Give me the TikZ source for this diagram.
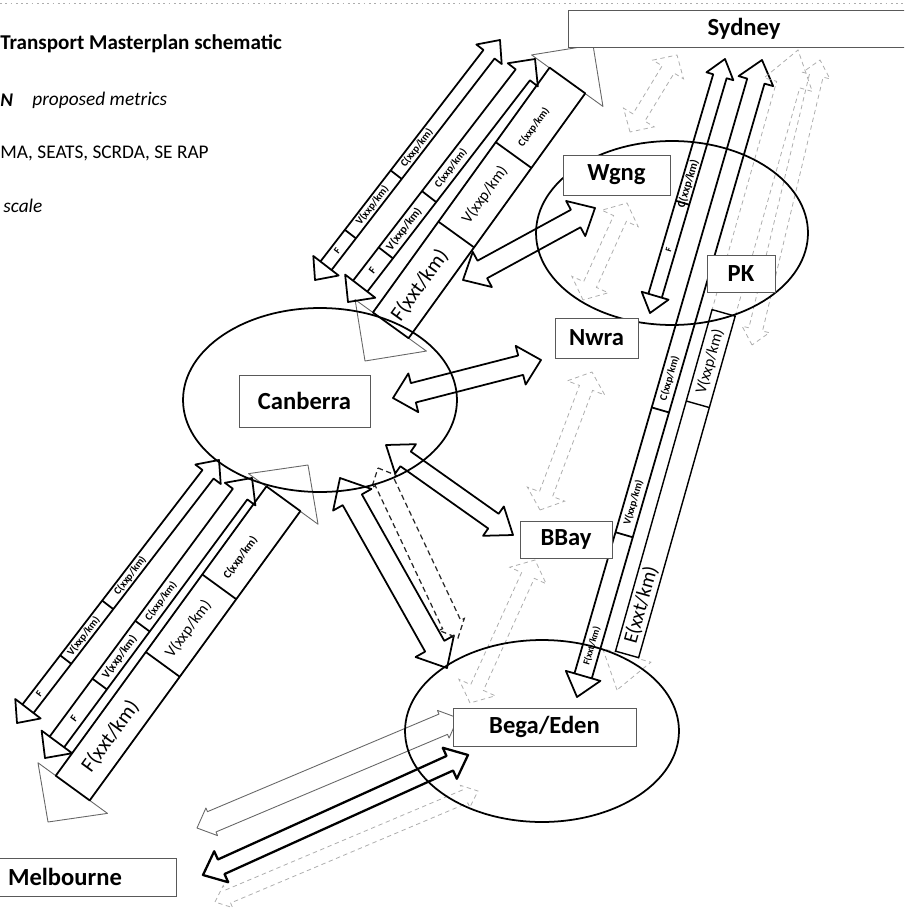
\documentclass[tikz,border=0pt]{standalone}
\usepackage{fontspec}
\setmainfont{Carlito}
\usetikzlibrary{calc}

% block arrow, head at both ends: [style]{from}{to}{half shaft}{half head}{head length} (px of the sketch)
\newcommand{\dblock}[6][]{%
  \draw[#1] (#2)
    -- ($(#2)!{#6*0.2mm}!(#3)!{#5*0.2mm}!90:(#3)$)
    -- ($(#2)!{#6*0.2mm}!(#3)!{#4*0.2mm}!90:(#3)$)
    -- ($(#3)!{#6*0.2mm}!(#2)!{#4*0.2mm}!-90:(#2)$)
    -- ($(#3)!{#6*0.2mm}!(#2)!{#5*0.2mm}!-90:(#2)$)
    -- (#3)
    -- ($(#3)!{#6*0.2mm}!(#2)!{#5*0.2mm}!90:(#2)$)
    -- ($(#3)!{#6*0.2mm}!(#2)!{#4*0.2mm}!90:(#2)$)
    -- ($(#2)!{#6*0.2mm}!(#3)!{#4*0.2mm}!-90:(#3)$)
    -- ($(#2)!{#6*0.2mm}!(#3)!{#5*0.2mm}!-90:(#3)$)
    -- cycle;}
% bar across an arrow at distance #4, half width #5
\newcommand{\xbar}[5][]{%
  \draw[#1] ($(#2)!{#4*0.2mm}!(#3)!{#5*0.2mm}!90:(#3)$)
    -- ($(#2)!{#4*0.2mm}!(#3)!{#5*0.2mm}!-90:(#3)$);}
% shaft box between distances #4 and #5, half width #6
\newcommand{\barbox}[6][]{%
  \draw[#1] ($(#2)!{#4*0.2mm}!(#3)!{#6*0.2mm}!90:(#3)$)
    -- ($(#2)!{#5*0.2mm}!(#3)!{#6*0.2mm}!90:(#3)$)
    -- ($(#2)!{#5*0.2mm}!(#3)!{#6*0.2mm}!-90:(#3)$)
    -- ($(#2)!{#4*0.2mm}!(#3)!{#6*0.2mm}!-90:(#3)$) -- cycle;}

\begin{document}
\begin{tikzpicture}[x=0.02cm, y=-0.02cm,
    heavy/.style={draw=black, line width=1pt, line join=round},
    hairline/.style={draw=black!60, line width=0.5pt, line join=round},
    faint/.style={draw=black!32, line width=0.45pt, dash pattern=on 2.5pt off 2pt},
    dashline/.style={draw=black!85, line width=0.7pt, dash pattern=on 3pt off 2pt},
    rim/.style={draw=black, line width=1pt},
    place/.style 2 args={draw=black!65, line width=0.5pt, fill=white, inner sep=0pt,
      minimum width=#1*0.02cm, minimum height=#2*0.02cm,
      font=\bfseries\fontsize{14}{16}\selectfont},
    metric/.style={sloped, inner sep=0pt, font=\fontsize{#1}{#1}\selectfont},
    smallmetric/.style={sloped, inner sep=0pt, font=\bfseries\fontsize{#1}{#1}\selectfont},
    note/.style={anchor=west, inner sep=0pt, font=\fontsize{11}{13}\selectfont}]
  \useasboundingbox (0,0) rectangle (904,912);
  \clip (0,0) rectangle (904,912);

  % scan edge
  \draw[faint, dash pattern=on 1pt off 2pt] (0,3) -- (904,3);

  % heading
  \node[note, font=\bfseries\fontsize{12}{14}\selectfont] (title) at (0,44) {Transport Masterplan schematic};
  \node[note, font=\bfseries\itshape\fontsize{11}{13}\selectfont] (keyn) at (0,100) {N};
  \node[note, font=\itshape\fontsize{11}{13}\selectfont] (keymet) at (32,100) {proposed metrics};
  \node[note] (keysrc) at (0,153) {MA, SEATS, SCRDA, SE RAP};
  \node[note, font=\itshape\fontsize{11}{13}\selectfont] (keyscl) at (3,206) {scale};

  % arrow ends
  \coordinate (csWa) at (365,361); \coordinate (csWb) at (593,45);
  \coordinate (csMa) at (348,302); \coordinate (csMb) at (535,59);
  \coordinate (csLa) at (315,280); \coordinate (csLb) at (500,40);
  \coordinate (cmWa) at (48,822);  \coordinate (cmWb) at (308,465);
  \coordinate (cmMa) at (45,758);  \coordinate (cmMb) at (252,478);
  \coordinate (cmLa) at (17,723);  \coordinate (cmLb) at (219,460);
  \coordinate (sbLa) at (577,697); \coordinate (sbLb) at (762,60);
  \coordinate (sbWa) at (617,690); \coordinate (sbWb) at (798,50);
  \coordinate (swa) at (650,313);  \coordinate (swb) at (725,59);
  \coordinate (sfa) at (752,345);  \coordinate (sfb) at (820,60);
  \coordinate (cwa) at (463,280);  \coordinate (cwb) at (595,208);
  \coordinate (cna) at (393,398);  \coordinate (cnb) at (541,360);
  \coordinate (cya) at (386,445);  \coordinate (cyb) at (513,535);
  \coordinate (cea) at (340,478);  \coordinate (ceb) at (447,668);
  \coordinate (cda) at (378,468);  \coordinate (cdb) at (458,638);
  \coordinate (d1a) at (630,132);  \coordinate (d1b) at (677,55);
  \coordinate (d2a) at (583,300);  \coordinate (d2b) at (627,203);
  \coordinate (d3a) at (540,510);  \coordinate (d3b) at (592,372);
  \coordinate (d4a) at (470,703);  \coordinate (d4b) at (535,560);
  \coordinate (bma) at (197,828);  \coordinate (bmb) at (458,718);
  \coordinate (bna) at (203,875);  \coordinate (bnb) at (468,755);
  \coordinate (boa) at (215,902);  \coordinate (bob) at (478,791);

  % Canberra - Sydney
  \dblock[hairline]{csWa}{csWb}{22}{44}{44}
  \barbox[heavy]{csWa}{csWb}{44}{346}{22}
  \xbar[heavy]{csWa}{csWb}{156}{22}
  \xbar[heavy]{csWa}{csWb}{254}{22}
  \path (csWa) -- (csWb) node[metric=12, pos=.24] {F(xxt/km)}
    node[metric=9, pos=.526] {V(xxp/km)} node[smallmetric=6, pos=.74] {C(xxp/km)};
  \dblock[heavy]{csMa}{csMb}{9}{19}{20}
  \xbar[heavy]{csMa}{csMb}{20}{9}
  \xbar[heavy]{csMa}{csMb}{62}{9}
  \xbar[heavy]{csMa}{csMb}{133}{9}
  \path (csMa) -- (csMb) node[smallmetric=6, pos=.13] {F}
    node[smallmetric=6.5, pos=.30] {V(xxp/km)} node[smallmetric=6, pos=.55] {C(xxp/km)};
  \dblock[heavy]{csLa}{csLb}{7}{16}{18}
  \xbar[heavy]{csLa}{csLb}{18}{7}
  \xbar[heavy]{csLa}{csLb}{58}{7}
  \xbar[heavy]{csLa}{csLb}{133}{7}
  \path (csLa) -- (csLb) node[smallmetric=5.5, pos=.12] {F}
    node[smallmetric=6, pos=.31] {V(xxp/km)} node[smallmetric=6, pos=.55] {C(xxp/km)};

  % Canberra - Melbourne
  \dblock[hairline]{cmWa}{cmWb}{21}{43}{42}
  \barbox[heavy]{cmWa}{cmWb}{42}{400}{21}
  \xbar[heavy]{cmWa}{cmWb}{195}{21}
  \xbar[heavy]{cmWa}{cmWb}{291}{21}
  \path (cmWa) -- (cmWb) node[metric=12, pos=.24] {F(xxt/km)}
    node[metric=9, pos=.54] {V(xxp/km)} node[smallmetric=6.5, pos=.74] {C(xxp/km)};
  \dblock[heavy]{cmMa}{cmMb}{9}{19}{20}
  \xbar[heavy]{cmMa}{cmMb}{20}{9}
  \xbar[heavy]{cmMa}{cmMb}{92}{9}
  \xbar[heavy]{cmMa}{cmMb}{164}{9}
  \path (cmMa) -- (cmMb) node[smallmetric=6, pos=.14] {F}
    node[smallmetric=6.5, pos=.36] {V(xxp/km)} node[smallmetric=6, pos=.56] {C(xxp/km)};
  \dblock[heavy]{cmLa}{cmLb}{7}{16}{18}
  \xbar[heavy]{cmLa}{cmLb}{18}{7}
  \xbar[heavy]{cmLa}{cmLb}{80}{7}
  \xbar[heavy]{cmLa}{cmLb}{149}{7}
  \path (cmLa) -- (cmLb) node[smallmetric=5.5, pos=.11] {F}
    node[smallmetric=6, pos=.33] {V(xxp/km)} node[smallmetric=6, pos=.56] {C(xxp/km)};

  % Sydney - Bega/Eden
  \dblock[heavy]{sbLa}{sbLb}{9}{18}{22}
  \xbar[heavy]{sbLa}{sbLb}{22}{9}
  \xbar[heavy]{sbLa}{sbLb}{169}{9}
  \xbar[heavy]{sbLa}{sbLb}{299}{9}
  \path (sbLa) -- (sbLb) node[smallmetric=5.5, pos=.08] {F(xxt/km)}
    node[smallmetric=6, pos=.305] {V(xxp/km)} node[smallmetric=6, pos=.50] {C(xxp/km)};
  \dblock[faint]{sbWa}{sbWb}{12}{25}{36}
  \barbox[draw=black, line width=0.8pt]{sbWa}{sbWb}{37}{392}{12}
  \xbar[draw=black, line width=0.8pt]{sbWa}{sbWb}{297}{12}
  \path (sbWa) -- (sbWb) node[metric=11.5, pos=.133] {E(xxt/km)}
    node[metric=9, pos=.513] {V(xxp/km)};
  \dblock[faint]{sfa}{sfb}{7}{14}{16}

  % Sydney - Wgng
  \dblock[heavy]{swa}{swb}{7}{14}{18}
  \xbar[heavy]{swa}{swb}{18}{7}
  \xbar[heavy]{swa}{swb}{115}{7}
  \path (swa) -- (swb) node[smallmetric=5, pos=.25] {F}
    node[smallmetric=6.5, pos=.51] {C(xxp/km)};

  % Canberra to the coast
  \dblock[heavy]{cwa}{cwb}{10}{20}{22}
  \dblock[heavy]{cna}{cnb}{10}{20}{21}
  \dblock[heavy]{cya}{cyb}{9}{18}{24}
  \dblock[heavy]{cea}{ceb}{11}{22}{25}
  \dblock[dashline]{cda}{cdb}{10}{14}{15}

  % coast links
  \dblock[faint]{d1a}{d1b}{7}{18}{17}
  \dblock[faint]{d2a}{d2b}{7}{20}{17}
  \dblock[faint]{d3a}{d3b}{7}{20}{17}
  \dblock[faint]{d4a}{d4b}{7}{20}{17}

  % Bega/Eden - Melbourne
  \dblock[hairline]{bma}{bmb}{11}{15}{16}
  \dblock[heavy, line width=1.3pt]{bna}{bnb}{8}{17}{20}
  \dblock[faint]{boa}{bob}{7}{12}{14}

  % regions
  \draw[rim] (320,400) ellipse [x radius=2.74cm, y radius=1.84cm];
  \draw[rim] (672,233) ellipse [x radius=2.72cm, y radius=1.84cm];
  \draw[rim] (542,731) ellipse [x radius=2.74cm, y radius=1.82cm];

  % places
  \node[place={352}{37}] (syd) at (744,28.5) {Sydney};
  \node[place={107}{40}] (wgng) at (616.5,175) {Wgng};
  \node[place={68}{37}] (pk) at (741,273.5) {PK};
  \node[place={83}{40}] (nwra) at (596.5,338) {Nwra};
  \node[place={131}{52}] (cbr) at (304.5,401) {Canberra};
  \node[place={92}{37}] (bbay) at (566,539.5) {BBay};
  \node[place={183}{38}] (bega) at (544.5,727) {Bega/Eden};
  \node[place={222}{38}] (melb) at (65,877) {Melbourne};
\end{tikzpicture}
\end{document}
